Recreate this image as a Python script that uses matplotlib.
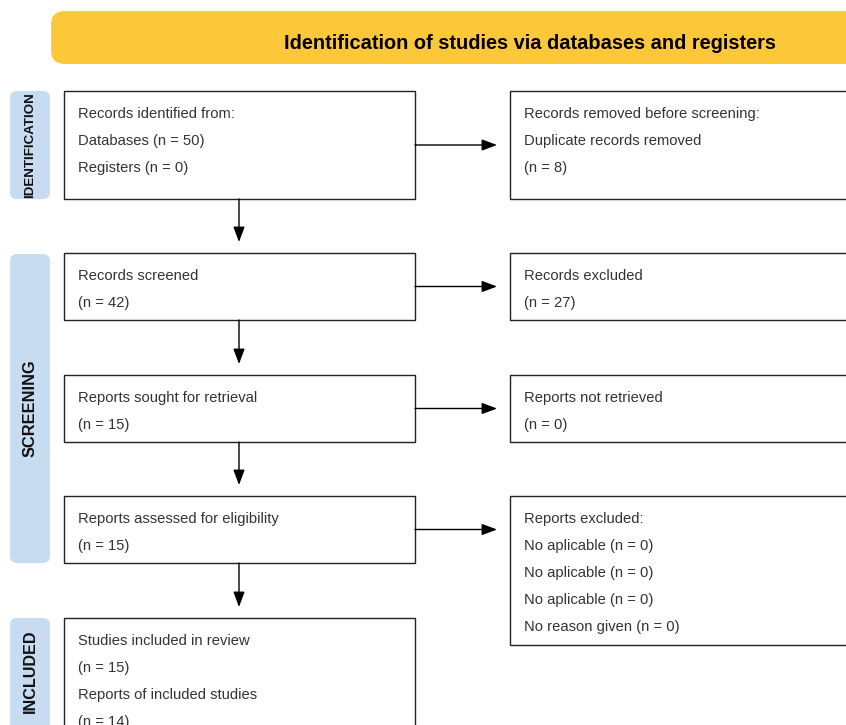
import matplotlib.pyplot as plt
from matplotlib.patches import FancyBboxPatch, Rectangle

plt.rcParams['font.family'] = ['Liberation Sans', 'DejaVu Sans']

titulo = "Identification of studies via databases and registers"
fases = ["IDENTIFICATION", "SCREENING", "INCLUDED"]
tam_fases = [9.6, 11.8, 11.6]

textos_izq = [
    ["Records identified from:", "Databases (n = 50)", "Registers (n = 0)"],
    ["Records screened", "(n = 42)"],
    ["Reports sought for retrieval", "(n = 15)"],
    ["Reports assessed for eligibility", "(n = 15)"],
    ["Studies included in review", "(n = 15)", "Reports of included studies", "(n = 14)"],
]
textos_der = [
    ["Records removed before screening:", "Duplicate records removed", "(n = 8)"],
    ["Records excluded", "(n = 27)"],
    ["Reports not retrieved", "(n = 0)"],
    ["Reports excluded:", "No aplicable (n = 0)", "No aplicable (n = 0)",
     "No aplicable (n = 0)", "No reason given (n = 0)"],
]

# posiciones (y superior, y inferior) en pixeles
cajas_izq = [(91, 199), (253, 320), (375, 442), (496, 563), (618, 760)]
cajas_der = [(91, 199), (253, 320), (375, 442), (496, 645)]
bandas = [(91, 199), (254, 563), (618, 760)]

fig = plt.figure(figsize=(8.46, 7.25), dpi=100)
ax = fig.add_axes([0, 0, 1, 1])
ax.set_xlim(0, 846)
ax.set_ylim(725, 0)
ax.axis('off')

# banner superior
ax.add_patch(FancyBboxPatch((51, 11), 900, 53,
                            boxstyle="round,pad=0,rounding_size=14",
                            fc='#FCC83A', ec='none'))
ax.text(530, 43, titulo, ha='center', va='center', fontsize=14.4,
        fontweight='bold', color='black')

# bandas laterales
for (y0, y1), nombre, fs in zip(bandas, fases, tam_fases):
    ax.add_patch(FancyBboxPatch((10, y0), 40, y1 - y0,
                                boxstyle="round,pad=0,rounding_size=7",
                                fc='#C7DCF0', ec='none'))
    yc = (y0 + min(y1, 725)) / 2
    ax.text(30, yc, nombre, rotation=90, ha='center', va='center',
            fontsize=fs, fontweight='bold', color='#111111')


def caja(x0, x1, y0, y1, lineas):
    ax.add_patch(Rectangle((x0, y0), x1 - x0, y1 - y0, fc='white',
                           ec='#222222', lw=1.0))
    for i, t in enumerate(lineas):
        ax.text(x0 + 14, y0 + 23 + 27 * i, t, ha='left', va='center',
                fontsize=10.6, color='#333333')


for (y0, y1), lineas in zip(cajas_izq, textos_izq):
    caja(64, 415, y0, y1, lineas)
for (y0, y1), lineas in zip(cajas_der, textos_der):
    caja(510, 900, y0, y1, lineas)

flecha = dict(arrowstyle='-|>,head_length=0.8,head_width=0.3', color='black',
              lw=1.0, mutation_scale=11.5, shrinkA=0, shrinkB=0)

# flechas horizontales
for (y0, y1) in cajas_izq[:4]:
    ym = (y0 + y1) / 2
    ax.annotate('', xy=(497, ym), xytext=(415, ym), arrowprops=flecha)

# flechas verticales
for (a0, a1), (b0, b1) in zip(cajas_izq[:-1], cajas_izq[1:]):
    ax.annotate('', xy=(239, b0 - 11), xytext=(239, a1), arrowprops=flecha)

fig.savefig('out.png', dpi=100)
